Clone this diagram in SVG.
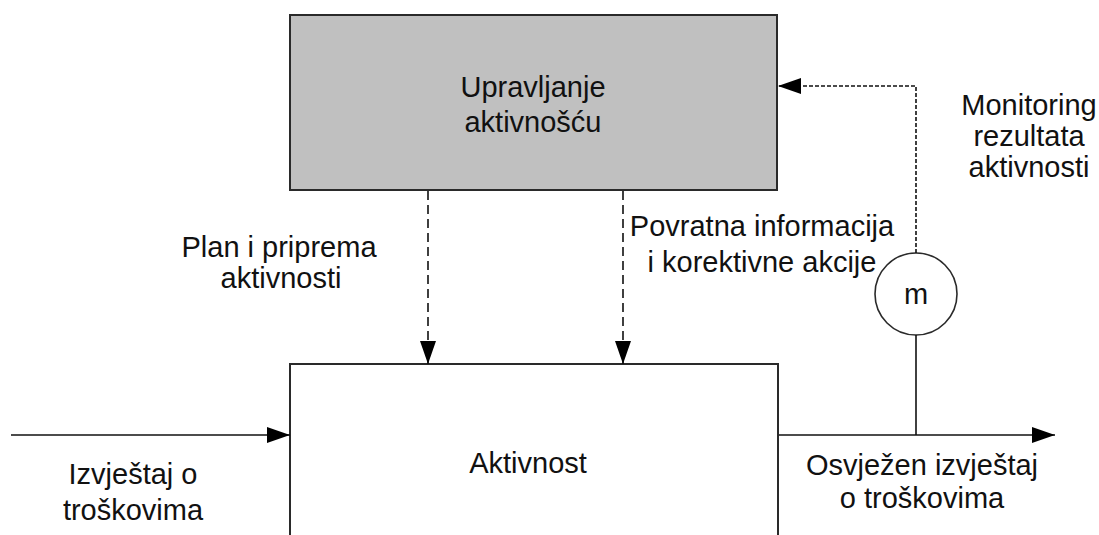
<svg xmlns="http://www.w3.org/2000/svg" width="1099" height="535" viewBox="0 0 1099 535">
  <style>
    .box { stroke: #2a2a2a; stroke-width: 2; }
    .lbl { font-family: "Liberation Sans", Arial, sans-serif; font-size: 29px; fill: #111; text-anchor: middle; }
    .wire { fill: none; stroke: #111; stroke-width: 1.6; }
    .dash { stroke-dasharray: 9 5; }
    .fine { stroke-dasharray: 4 2; }
  </style>
  <defs>
    <marker id="head" markerUnits="userSpaceOnUse" markerWidth="24" markerHeight="18" refX="23" refY="8" orient="auto">
      <path d="M0,0 L23,8 L0,16 Z" fill="#000"/>
    </marker>
  </defs>

  <rect width="1099" height="535" fill="#fff"/>

  <!-- management block -->
  <g id="upravljanje">
    <rect class="box" x="290" y="15" width="487" height="175" fill="#c0c0c0"/>
    <text class="lbl" x="533" y="97">Upravljanje</text>
    <text class="lbl" x="533" y="132">aktivnošću</text>
  </g>

  <!-- activity block (continues below the frame) -->
  <g id="aktivnost">
    <rect class="box" x="290" y="364" width="488" height="220" fill="#fff"/>
    <text class="lbl" x="528" y="473">Aktivnost</text>
  </g>

  <!-- monitoring point -->
  <g id="monitor">
    <circle cx="916" cy="294" r="41" fill="#fff" stroke="#2a2a2a" stroke-width="1.6"/>
    <text class="lbl" x="916" y="304">m</text>
  </g>

  <!-- connectors -->
  <g id="connectors">
    <path class="wire dash" d="M428,191 V364" marker-end="url(#head)"/>
    <path class="wire dash" d="M623,191 V364" marker-end="url(#head)"/>
    <path class="wire" d="M11,435 H290" marker-end="url(#head)"/>
    <path class="wire" d="M779,435 H1055" marker-end="url(#head)"/>
    <path class="wire" d="M916,435 V335"/>
    <path class="wire fine" d="M916,253 V86 H778" marker-end="url(#head)"/>
  </g>

  <!-- flow labels -->
  <g id="labels">
    <text class="lbl" x="279" y="257">Plan i priprema</text>
    <text class="lbl" x="281" y="288">aktivnosti</text>
    <text class="lbl" x="762" y="236">Povratna informacija</text>
    <text class="lbl" x="762" y="272">i korektivne akcije</text>
    <text class="lbl" x="1029" y="115">Monitoring</text>
    <text class="lbl" x="1029" y="146">rezultata</text>
    <text class="lbl" x="1029" y="177">aktivnosti</text>
    <text class="lbl" x="133" y="484">Izvještaj o</text>
    <text class="lbl" x="133" y="520">troškovima</text>
    <text class="lbl" x="922" y="475">Osvježen izvještaj</text>
    <text class="lbl" x="922" y="508">o troškovima</text>
  </g>
</svg>
